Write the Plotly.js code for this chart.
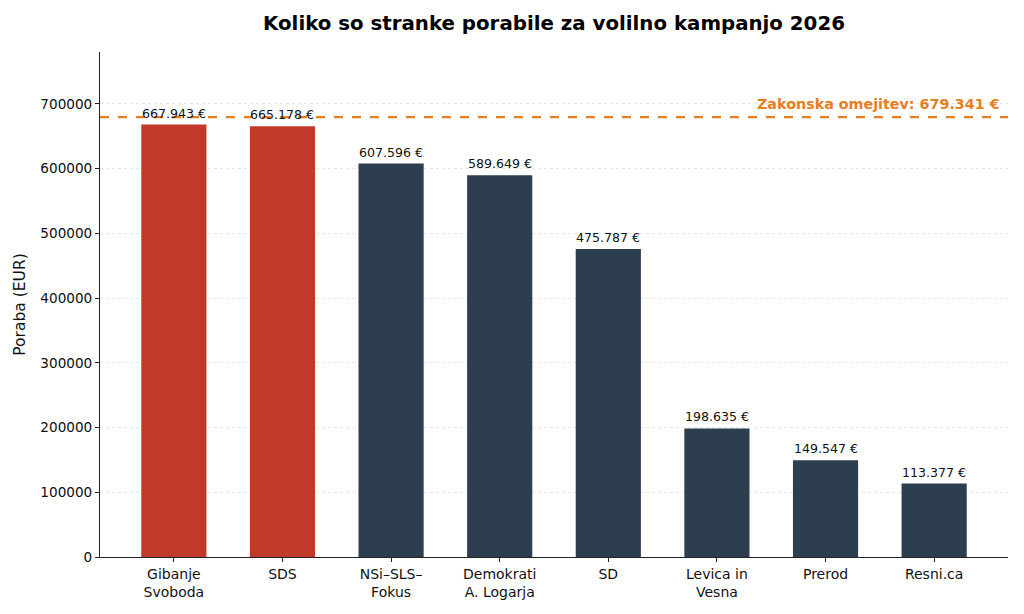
<!DOCTYPE html>
<html>
<head>
<meta charset="utf-8">
<script src="https://cdn.plot.ly/plotly-3.0.1.min.js"></script>
<style>
  html, body { margin: 0; padding: 0; background: #fff; }
  #chart { width: 1024px; height: 614px; }
</style>
</head>
<body>
<div id="chart"></div>
<script>
const stranke = ["Gibanje<br>Svoboda", "SDS", "NSi–SLS–<br>Fokus", "Demokrati<br>A. Logarja", "SD", "Levica in<br>Vesna", "Prerod", "Resni.ca"];
const poraba = [667943, 665178, 607596, 589649, 475787, 198635, 149547, 113377];
const omejitev = 679341;
const barve = ["#c0392b", "#c0392b", "#2c3e50", "#2c3e50", "#2c3e50", "#2c3e50", "#2c3e50", "#2c3e50"];

function fmt(v) {
    return v.toString().replace(/\B(?=(\d{3})+(?!\d))/g, ".") + " €";
}

const xIdx = stranke.map(function (_, i) { return i; });

const oznake = poraba.map(function (v, i) {
    return {
        x: i, y: v, xref: "x", yref: "y",
        text: fmt(v), showarrow: false,
        yanchor: "bottom", yshift: 2,
        font: { size: 12.6, color: "#111" }
    };
});

oznake.push({
    xref: "paper", x: 0.993, yref: "y", y: omejitev,
    xanchor: "right", yanchor: "bottom", yshift: 3,
    text: "<b>Zakonska omejitev: " + fmt(omejitev) + "</b>",
    showarrow: false,
    font: { size: 14.3, color: "#e67e22" }
});

Plotly.newPlot("chart", [
    {
        type: "bar",
        x: xIdx,
        y: poraba,
        width: 0.6,
        marker: { color: barve },
        hoverinfo: "none"
    }
], {
    width: 1024,
    height: 614,
    font: { family: "DejaVu Sans, sans-serif", size: 14, color: "#111" },
    paper_bgcolor: "#fff",
    plot_bgcolor: "#fff",
    margin: { l: 100, r: 16, t: 52, b: 57 },
    showlegend: false,
    title: {
        text: "<b>Koliko so stranke porabile za volilno kampanjo 2026</b>",
        font: { size: 19.8, color: "#000" },
        x: 0.541, xanchor: "center",
        y: 0.962, yanchor: "middle"
    },
    xaxis: {
        tickmode: "array",
        tickvals: xIdx,
        ticktext: stranke,
        range: [-0.68, 7.68],
        showgrid: false,
        zeroline: false,
        showline: true,
        linecolor: "#222",
        linewidth: 1,
        ticks: "outside",
        ticklen: 4,
        tickcolor: "#222",
        tickfont: { size: 14 }
    },
    yaxis: {
        title: { text: "Poraba (EUR)", font: { size: 15.5 }, standoff: 10 },
        range: [0, 780000],
        dtick: 100000,
        tickformat: "d",
        showgrid: true,
        gridcolor: "#e6e6e6",
        griddash: "dot",
        gridwidth: 1,
        zeroline: false,
        showline: true,
        linecolor: "#222",
        linewidth: 1,
        ticks: "outside",
        ticklen: 4,
        tickcolor: "#222",
        tickfont: { size: 13.6 }
    },
    shapes: [{
        type: "line", xref: "paper", x0: 0, x1: 1,
        yref: "y", y0: omejitev, y1: omejitev,
        line: { color: "#e67e22", width: 2.2, dash: "dash" }
    }],
    annotations: oznake
}, { staticPlot: true });
</script>
</body>
</html>
